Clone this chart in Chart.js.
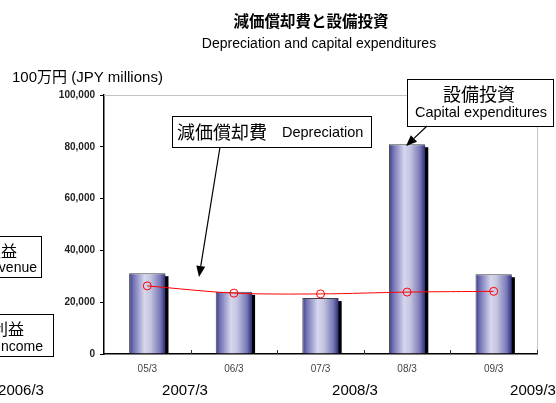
<!DOCTYPE html>
<html>
<head>
<meta charset="utf-8">
<script src="https://cdn.jsdelivr.net/npm/chart.js@4/dist/chart.umd.min.js"></script>
<style>
  html, body { margin: 0; padding: 0; background: #fff; }
  #wrap { width: 556px; height: 403px; position: relative; }
</style>
</head>
<body>
<div id="wrap"><canvas id="capexChart" width="556" height="403"></canvas></div>
<script>
// chart values
const categories = ['05/3', '06/3', '07/3', '08/3', '09/3'];
const capexValues = [31200, 24000, 21600, 81000, 30800];
const depreciationValues = [26300, 23500, 23200, 23900, 24200];
const yTickStep = 20000;
const yMax = 100000;
const bottomLabels = ['2006/3', '2007/3', '2008/3', '2009/3'];

const LATIN = "'Liberation Sans', Arial, 'Noto Sans CJK JP', sans-serif";
const BAR_PCT = 0.42;

// horizontal cylinder-like gradient for each bar
const barGradient = (c) => {
    const chart = c.chart;
    if (!chart.chartArea || c.type !== 'data') return '#8080bc';
    const xs = chart.scales.x;
    const cx = xs.getPixelForValue(c.dataIndex);
    const half = xs.width / categories.length * BAR_PCT / 2;
    const g = chart.ctx.createLinearGradient(cx - half, 0, cx + half, 0);
    g.addColorStop(0, '#3a3a8c');
    g.addColorStop(0.12, '#7272b4');
    g.addColorStop(0.42, '#d6d6ee');
    g.addColorStop(0.58, '#c6c6e2');
    g.addColorStop(0.85, '#7a7ab8');
    g.addColorStop(1, '#2a2a76');
    return g;
};

const box = (ctx, x, y, w, h) => {
    ctx.fillStyle = '#fff';
    ctx.fillRect(x, y, w, h);
    ctx.strokeStyle = '#000';
    ctx.lineWidth = 1;
    ctx.strokeRect(x + 0.5, y + 0.5, w, h);
};

const arrow = (ctx, x1, y1, x2, y2) => {
    const a = Math.atan2(y2 - y1, x2 - x1);
    const len = 11, wid = 4.5;
    const bx = x2 - len * Math.cos(a), by = y2 - len * Math.sin(a);
    ctx.strokeStyle = '#000';
    ctx.lineWidth = 1.2;
    ctx.beginPath();
    ctx.moveTo(x1, y1);
    ctx.lineTo(bx, by);
    ctx.stroke();
    ctx.fillStyle = '#000';
    ctx.beginPath();
    ctx.moveTo(x2, y2);
    ctx.lineTo(bx + wid * Math.sin(a), by - wid * Math.cos(a));
    ctx.lineTo(bx - wid * Math.sin(a), by + wid * Math.cos(a));
    ctx.closePath();
    ctx.fill();
};

const decorations = {
    id: 'decorations',
    beforeDatasetsDraw(chart) {
        const ctx = chart.ctx;
        const { left, right, top, bottom } = chart.chartArea;
        ctx.save();
        // grey frame at top and right
        ctx.strokeStyle = '#c4c4c4';
        ctx.lineWidth = 1;
        ctx.beginPath();
        ctx.moveTo(left, top + 0.5);
        ctx.lineTo(right + 0.5, top + 0.5);
        ctx.lineTo(right + 0.5, bottom);
        ctx.stroke();
        // small category ticks pointing up
        const xs = chart.scales.x;
        const cw = xs.width / categories.length;
        ctx.strokeStyle = '#333';
        ctx.beginPath();
        for (let i = 1; i <= categories.length; i++) {
            const x = Math.round(left + i * cw) + 0.5;
            ctx.moveTo(x, bottom);
            ctx.lineTo(x, bottom - 4);
        }
        ctx.stroke();
        // bar shadows
        const meta = chart.getDatasetMeta(1);
        ctx.fillStyle = '#000';
        meta.data.forEach((bar) => {
            const p = bar.getProps(['x', 'y', 'base', 'width']);
            ctx.fillRect(p.x - p.width / 2 + 3, p.y + 3, p.width, p.base - p.y - 3);
        });
        ctx.restore();
    },
    afterDraw(chart) {
        const ctx = chart.ctx;
        ctx.save();
        ctx.textBaseline = 'middle';
        ctx.fillStyle = '#000';

        // titles
        ctx.textAlign = 'center';
        ctx.font = "bold 15.5px 'Noto Sans CJK JP', sans-serif";
        ctx.fillText('減価償却費と設備投資', 311, 21);
        ctx.font = '14px ' + LATIN;
        ctx.fillText('Depreciation and capital expenditures', 319, 44);
        ctx.textAlign = 'left';
        ctx.font = '15px ' + LATIN;
        ctx.fillText('100万円 (JPY millions)', 12, 78);

        // depreciation callout
        box(ctx, 172, 116, 199, 31);
        ctx.fillStyle = '#000';
        ctx.font = "18px 'Noto Sans CJK JP', sans-serif";
        ctx.fillText('減価償却費', 177, 132);
        ctx.font = '14.5px ' + LATIN;
        ctx.fillText('Depreciation', 282, 133);
        arrow(ctx, 220, 147, 199, 277);

        // capex callout
        box(ctx, 407, 79, 146, 47);
        ctx.fillStyle = '#000';
        ctx.textAlign = 'center';
        ctx.font = "18px 'Noto Sans CJK JP', sans-serif";
        ctx.fillText('設備投資', 479, 94);
        ctx.font = '14.5px ' + LATIN;
        ctx.fillText('Capital expenditures', 481, 113);
        arrow(ctx, 427, 126, 406, 146);

        // boxes cut off at the left edge
        box(ctx, -5, 236, 46, 41);
        box(ctx, -5, 314, 58, 42);
        ctx.fillStyle = '#000';
        ctx.textAlign = 'right';
        ctx.font = "16px 'Noto Sans CJK JP', sans-serif";
        ctx.fillText('営業収益', 17, 251);
        ctx.fillText('営業利益', 24, 329);
        ctx.font = '14px ' + LATIN;
        ctx.fillText('Operating revenue', 37, 268);
        ctx.fillText('Operating income', 43, 347);

        // period labels along the bottom
        ctx.textAlign = 'center';
        ctx.font = '15px ' + LATIN;
        const px = [21, 185, 355, 533];
        bottomLabels.forEach((t, i) => ctx.fillText(t, px[i], 391));
        ctx.restore();
    }
};

new Chart(document.getElementById('capexChart').getContext('2d'), {
    type: 'bar',
    data: {
        labels: categories,
        datasets: [{
            type: 'line',
            label: 'Depreciation',
            data: depreciationValues,
            borderColor: '#ff0000',
            borderWidth: 1,
            tension: 0.3,
            pointRadius: 4,
            pointBorderColor: '#ff0000',
            pointBackgroundColor: 'rgba(0,0,0,0)',
            pointBorderWidth: 1,
            order: 0,
        }, {
            type: 'bar',
            label: 'Capital expenditures',
            data: capexValues,
            backgroundColor: barGradient,
            borderColor: '#404040',
            borderWidth: { top: 1, left: 1, right: 0, bottom: 0 },
            borderSkipped: false,
            barPercentage: BAR_PCT,
            categoryPercentage: 1,
            order: 1,
        }]
    },
    options: {
        responsive: false,
        animation: false,
        layout: { padding: { top: 95, right: 19, left: 0, bottom: 0 } },
        plugins: {
            legend: { display: false },
            tooltip: { enabled: false },
        },
        scales: {
            x: {
                grid: { drawOnChartArea: false, drawTicks: false },
                border: { color: '#000', width: 1.5 },
                ticks: { color: '#444', font: { family: LATIN, size: 10 }, padding: 9 },
                afterFit: (s) => { s.height = 49; },
            },
            y: {
                min: 0,
                max: yMax,
                ticks: {
                    stepSize: yTickStep,
                    color: '#222',
                    padding: 5,
                    font: { family: LATIN, size: 10, weight: 'bold' },
                    callback: (v) => v.toLocaleString('en-US'),
                },
                grid: { drawOnChartArea: false, drawTicks: true, tickLength: 4, color: '#000' },
                border: { color: '#000', width: 1.5 },
                afterFit: (s) => { s.width = 104; },
            },
        },
    },
    plugins: [decorations],
});
</script>
</body>
</html>
